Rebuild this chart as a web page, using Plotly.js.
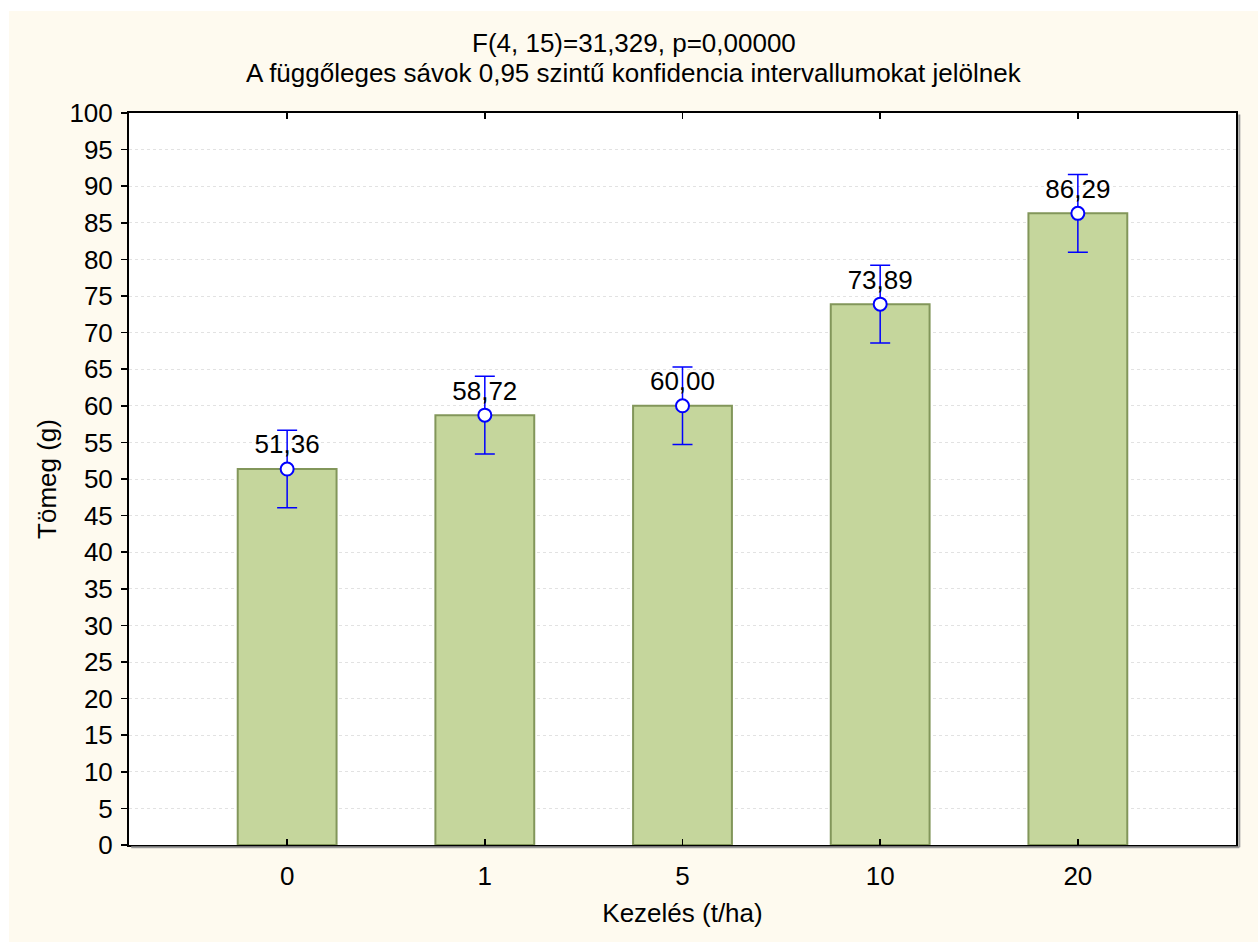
<!DOCTYPE html>
<html>
<head>
<meta charset="utf-8">
<script src="https://cdn.plot.ly/plotly-3.0.1.min.js"></script>
<style>
  html, body { margin: 0; padding: 0; background: #ffffff; }
  #chart { position: absolute; left: 9px; top: 11px; width: 1249px; height: 931px; }
</style>
</head>
<body>
<div id="chart"></div>
<script>
const categories = ['0', '1', '5', '10', '20'];
const means = [51.36, 58.72, 60.00, 73.89, 86.29];
const ciHalf = [5.3, 5.3, 5.3, 5.3, 5.3];
const yTicks = [0,5,10,15,20,25,30,35,40,45,50,55,60,65,70,75,80,85,90,95,100];
const titleLines = ['F(4, 15)=31,329, p=0,00000', 'A függőleges sávok 0,95 szintű konfidencia intervallumokat jelölnek'];

const labels = means.map(v => v.toFixed(2).replace('.', ','));
const FONT = 'Liberation Sans, Arial, sans-serif';
const FS = 26;

const bars = {
  type: 'bar',
  x: categories,
  y: means,
  width: 0.5,
  marker: { color: '#c5d69c', line: { color: '#82965a', width: 2 } },
  hoverinfo: 'skip',
  showlegend: false
};

const points = {
  type: 'scatter',
  mode: 'markers+text',
  x: categories,
  y: means,
  text: labels,
  textposition: 'top center',
  textfont: { family: FONT, size: FS, color: '#000000' },
  marker: { size: 13, color: '#ffffff', line: { color: '#0000ff', width: 2 } },
  error_y: { type: 'data', array: ciHalf, visible: true, color: '#0000ff', thickness: 1.5, width: 10 },
  cliponaxis: false,
  showlegend: false
};

const W = 1249, H = 931, ML = 120, MR = 22, MT = 102, MB = 97;
const plotW = W - ML - MR, plotH = H - MT - MB;
const centerX = (W / 2 - ML) / plotW;

const layout = {
  width: W,
  height: H,
  paper_bgcolor: '#fefaef',
  plot_bgcolor: '#ffffff',
  margin: { l: ML, r: MR, t: MT, b: MB },
  font: { family: FONT, size: FS, color: '#000000' },
  annotations: [
    { text: titleLines[0], xref: 'paper', yref: 'paper', x: centerX, y: 1 + (MT - 32) / plotH,
      xanchor: 'center', yanchor: 'middle', showarrow: false, font: { family: FONT, size: FS, color: '#000000' } },
    { text: titleLines[1], xref: 'paper', yref: 'paper', x: centerX, y: 1 + (MT - 62) / plotH,
      xanchor: 'center', yanchor: 'middle', showarrow: false, font: { family: FONT, size: FS, color: '#000000' } }
  ],
  xaxis: {
    type: 'category',
    range: [-0.8, 4.8],
    showline: true, linecolor: '#000000', linewidth: 2, mirror: 'ticks',
    ticks: 'inside', ticklen: 6, tickcolor: '#000000', tickwidth: 1.5,
    ticklabelstandoff: 7,
    showgrid: false, zeroline: false,
    tickfont: { family: FONT, size: FS, color: '#000000' },
    title: { text: 'Kezelés (t/ha)', font: { family: FONT, size: FS, color: '#000000' }, standoff: 14 }
  },
  yaxis: {
    range: [0, 100],
    tickvals: yTicks,
    ticktext: yTicks.map(String),
    showline: true, linecolor: '#000000', linewidth: 2, mirror: true,
    ticks: 'outside', ticklen: 6, tickcolor: '#000000', tickwidth: 1.5,
    ticklabelstandoff: 3,
    showgrid: true, gridcolor: '#e2e2e2', griddash: 'dot', gridwidth: 1,
    zeroline: false,
    tickfont: { family: FONT, size: FS, color: '#000000' },
    title: { text: 'Tömeg (g)', font: { family: FONT, size: FS, color: '#000000' }, standoff: 5 }
  },
  shapes: [
    { type: 'line', xref: 'paper', yref: 'paper', x0: 0.002, x1: 1.003, y0: -0.003, y1: -0.003,
      line: { color: '#9a9a9a', width: 2 } },
    { type: 'line', xref: 'paper', yref: 'paper', x0: 1.003, x1: 1.003, y0: -0.003, y1: 0.998,
      line: { color: '#9a9a9a', width: 2 } }
  ]
};

Plotly.newPlot('chart', [bars, points], layout, { displayModeBar: false, staticPlot: true });
</script>
</body>
</html>
